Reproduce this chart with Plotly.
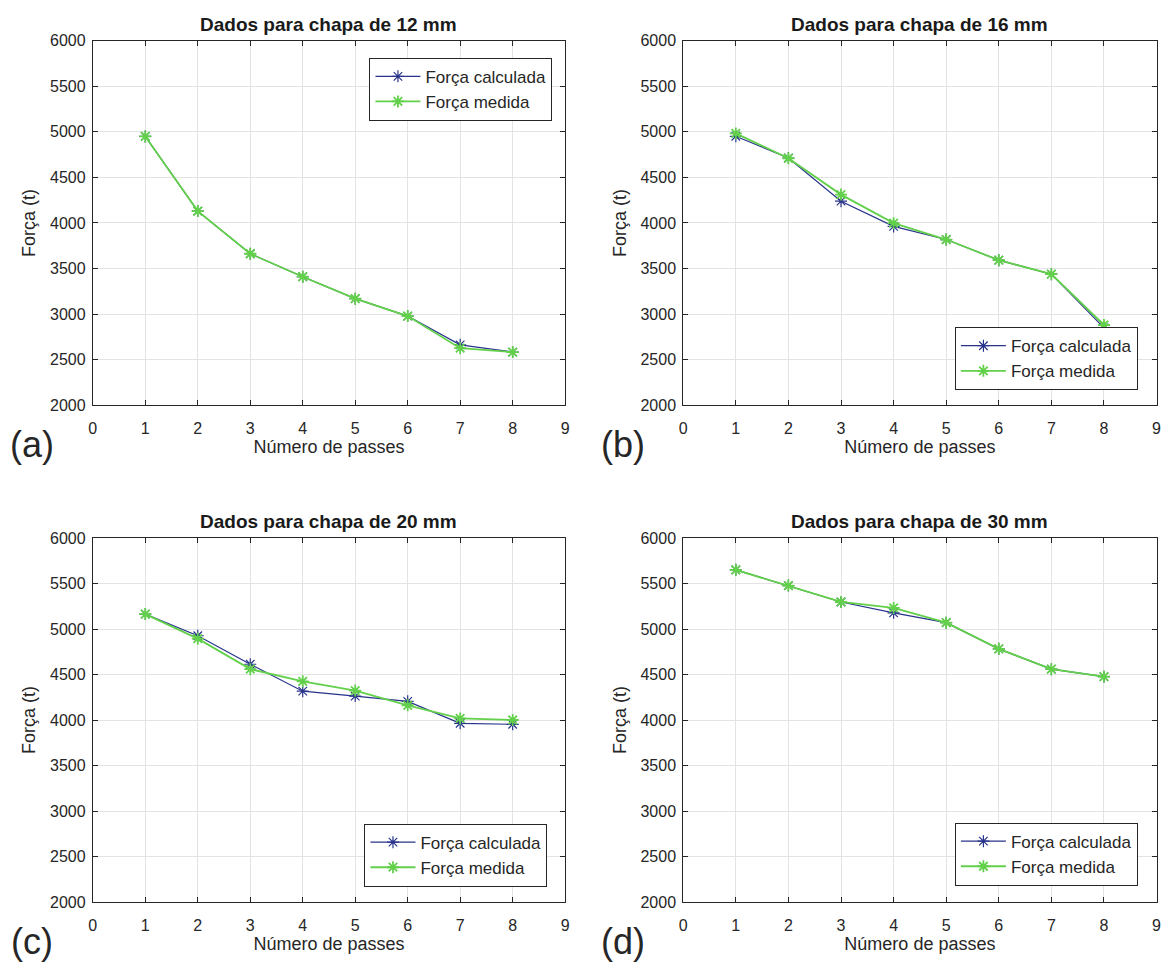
import plotly.graph_objects as go

passes = [1, 2, 3, 4, 5, 6, 7, 8]

calc_12 = [4950, 4130, 3662, 3410, 3169, 2978, 2662, 2583]
med_12 = [4950, 4130, 3662, 3410, 3169, 2978, 2626, 2583]

calc_16 = [4951, 4713, 4239, 3962, 3818, 3592, 3438, 2848]
med_16 = [4983, 4710, 4311, 3998, 3818, 3592, 3438, 2880]

calc_20 = [5164, 4926, 4613, 4317, 4263, 4205, 3964, 3953]
med_20 = [5164, 4894, 4559, 4425, 4324, 4162, 4018, 4000]

calc_30 = [5650, 5477, 5297, 5178, 5070, 4782, 4559, 4476]
med_30 = [5650, 5477, 5297, 5232, 5070, 4782, 4559, 4476]

titles = ["Dados para chapa de 12 mm", "Dados para chapa de 16 mm",
          "Dados para chapa de 20 mm", "Dados para chapa de 30 mm"]
panel_labels = ["(a)", "(b)", "(c)", "(d)"]
series_names = ["Força calculada", "Força medida"]
x_ticks = [0, 1, 2, 3, 4, 5, 6, 7, 8, 9]
y_ticks = [2000, 2500, 3000, 3500, 4000, 4500, 5000, 5500, 6000]

data = [(calc_12, med_12), (calc_16, med_16), (calc_20, med_20), (calc_30, med_30)]

W, H = 1170, 967
FONT = "Liberation Sans, Arial, sans-serif"
BLUE = "#28338c"
GREEN = "#62d04a"

# pixel boxes of the four axes: (left, right, top, bottom)
boxes = [(89.5, 565.5, 33.3, 404.3), (684.5, 1161.5, 33.3, 404.3),
         (89.5, 565.5, 539.5, 910), (684.5, 1161.5, 539.5, 910)]
legend_pos = [(552.7, 50.7, "right", "top"), (1142.7, 389, "right", "bottom"),
              (547.7, 894.3, "right", "bottom"), (1142.7, 893.3, "right", "bottom")]

fig = go.Figure()
layout = dict(width=W, height=H, margin=dict(l=0, r=0, t=0, b=0),
              paper_bgcolor="white", plot_bgcolor="white",
              font=dict(family=FONT, color="#262626", size=16),
              annotations=[])

for i, (calc, med) in enumerate(data):
    n = "" if i == 0 else str(i + 1)
    leg = "legend" + n
    fig.add_trace(go.Scatter(x=passes, y=calc, name=series_names[0], mode="lines+markers",
                             line=dict(color=BLUE, width=1.2),
                             marker=dict(symbol="asterisk-open", size=10,
                                         line=dict(color=BLUE, width=1.2)),
                             xaxis="x" + n, yaxis="y" + n, legend=leg))
    fig.add_trace(go.Scatter(x=passes, y=med, name=series_names[1], mode="lines+markers",
                             line=dict(color=GREEN, width=1.8),
                             marker=dict(symbol="asterisk-open", size=10,
                                         line=dict(color=GREEN, width=1.8)),
                             xaxis="x" + n, yaxis="y" + n, legend=leg))
    l, r, t, b = boxes[i]
    common = dict(showline=True, linecolor="#262626", linewidth=1, mirror="ticks",
                  ticks="inside", ticklen=5, tickcolor="#262626",
                  showgrid=True, gridcolor="#e3e3e3", gridwidth=1, zeroline=False,
                  tickfont=dict(size=16, color="#262626"))
    layout["xaxis" + n] = dict(domain=[l / W, r / W], anchor="y" + n, range=[0, 9],
                               tickvals=x_ticks, ticklabelstandoff=9,
                               title=dict(text="Número de passes", font=dict(size=18), standoff=3),
                               **common)
    layout["yaxis" + n] = dict(domain=[1 - b / H, 1 - t / H], anchor="x" + n,
                               range=[2000, 6000], tickvals=y_ticks, ticklabelstandoff=3,
                               title=dict(text="Força (t)", font=dict(size=18), standoff=9),
                               **common)
    lx, ly, xa, ya = legend_pos[i]
    layout[leg] = dict(x=lx / W, y=1 - ly / H, xanchor=xa, yanchor=ya,
                       bgcolor="white", bordercolor="#262626", borderwidth=1,
                       font=dict(size=17, color="#262626"), itemwidth=45,
                       tracegroupgap=0)
    layout["annotations"].append(dict(text="<b>" + titles[i] + "</b>", x=(l + r) / 2 / W,
                                      y=1 - (t - 4) / H, xref="paper", yref="paper",
                                      xanchor="center", yanchor="bottom", showarrow=False,
                                      font=dict(size=19, color="#1a1a1a")))
    layout["annotations"].append(dict(text=panel_labels[i], x=(l - 61) / W,
                                      y=1 - (b + 40) / H, xref="paper", yref="paper",
                                      xanchor="center", yanchor="middle", showarrow=False,
                                      font=dict(size=36, color="#262626")))

fig.update_layout(**layout)
fig.write_html("out.html")
